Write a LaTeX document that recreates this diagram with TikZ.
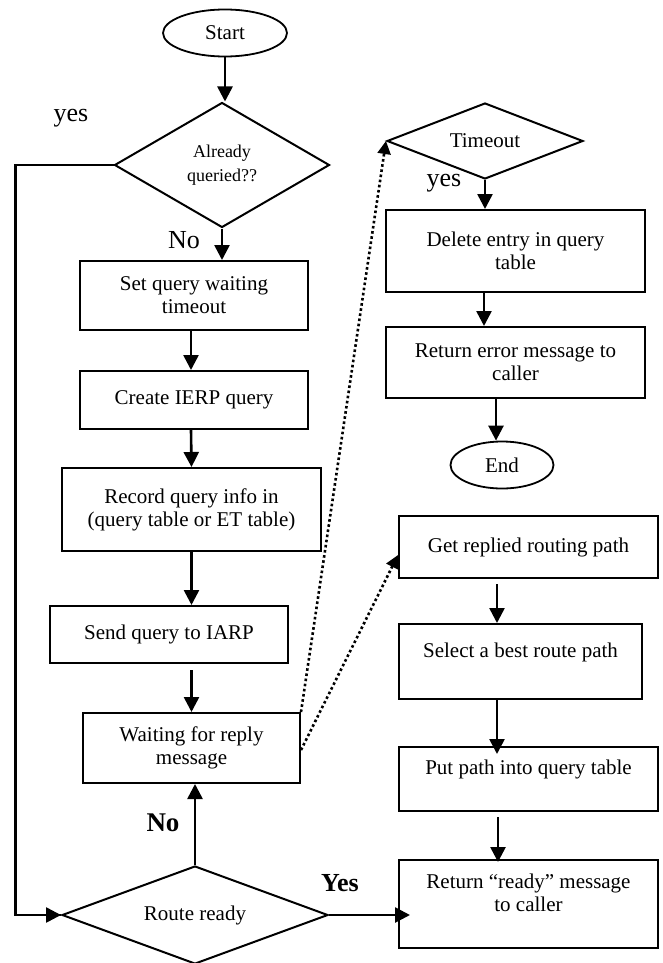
\documentclass[tikz,border=0pt]{standalone}
\usepackage{fontspec}
\setmainfont{Liberation Serif}
\usetikzlibrary{shapes.geometric,arrows.meta}

\begin{document}
\begin{tikzpicture}[x=1pt,y=-1pt,
  every node/.style={inner sep=0pt},
  body/.style={font=\fontsize{21}{23}\selectfont},
  stepbox/.style={body,draw,rectangle,line width=2pt,align=center},
  term/.style={body,draw,ellipse,line width=1.8pt},
  decision/.style={draw,diamond,line width=2pt,align=center},
  lbl/.style={font=\fontsize{26}{28}\selectfont},
  arr/.style={line width=2.6pt,-{Triangle[length=15pt,width=15pt]}},
  link/.style={line width=2.4pt},
  dotarr/.style={line width=2.6pt,dash pattern=on 2.6pt off 2.6pt,
                 -{Triangle[length=13pt,width=13pt]}}]

\useasboundingbox (0,0) rectangle (662,963);

% ---- main column -------------------------------------------------
\node[term,minimum width=124,minimum height=47] (start) at (225,33) {Start};

\node[decision,shape aspect=1.72,minimum width=215,minimum height=125,
      font=\fontsize{18}{24}\selectfont] (q1) at (222,165) {Already\\queried??};

\node[stepbox,minimum width=228,minimum height=69] (b1) at (194,295.5)
  {Set query waiting\\timeout};
\node[stepbox,minimum width=228,minimum height=58] (b2) at (194,400)
  {Create IERP query};
\node[stepbox,minimum width=259,minimum height=83] (b3) at (191.5,509.5)
  {Record query info in\\(query table or ET table)};
\node[stepbox,minimum width=238,minimum height=57] (b4) at (169,634.5)
  {Send query to IARP};
\node[stepbox,minimum width=217,minimum height=70] (b5) at (191.5,748)
  {Waiting for reply\\message};

\node[decision,body,shape aspect=2.7,minimum width=266,minimum height=98]
  (q2) at (195,915) {Route ready};

% ---- timeout branch ----------------------------------------------
\node[decision,body,shape aspect=2.58,minimum width=196,minimum height=76]
  (tout) at (485,141) {Timeout};
\node[stepbox,minimum width=259,minimum height=82] (del) at (515.5,251)
  {Delete entry in query\\table};
\node[stepbox,minimum width=259,minimum height=71] (err) at (515.5,362.5)
  {Return error message to\\caller};
\node[term,minimum width=103,minimum height=47] (end) at (502,465) {End};

% ---- reply branch ------------------------------------------------
\node[stepbox,minimum width=259,minimum height=62] (get) at (528.5,547)
  {Get replied routing path};
\node[stepbox,minimum width=243,minimum height=75] (sel) at (520.5,661.5)
  {Select a best route path\\\mbox{}};
\node[stepbox,minimum width=259,minimum height=64] (put) at (528.5,779)
  {Put path into query table\\\mbox{}};
\node[stepbox,minimum width=259,minimum height=88] (ret) at (528.5,904)
  {Return ``ready'' message\\to caller\\\mbox{}};

% ---- labels ------------------------------------------------------
\node[lbl] (lyes1) at (71,118) {yes};
\node[lbl] (lno1) at (184,240) {No};
\node[lbl] (lyes2) at (444,183) {yes};
\node[lbl,font=\fontsize{27}{29}\selectfont\bfseries] (lno2) at (163,823) {No};
\node[lbl,font=\fontsize{26}{28}\selectfont\bfseries] (lyes3) at (340,883) {Yes};

% ---- connectors --------------------------------------------------
\draw[arr] (start.south) -- (start.south |- q1.north);
\draw[arr] (q1.south) -- (q1.south |- b1.north);
\draw[arr] ([xshift=-3pt]b1.south) -- ([xshift=-3pt]b2.north);
\draw[arr] ([xshift=-3pt]b2.south) -- (b3.north);
\draw[arr] (b3.south) -- (b3.south |- b4.north);
\draw[arr] ([yshift=-6pt]b4.south -| b5.north) -- (b5.north);
\draw[arr] (q2.north) -- (q2.north |- b5.south);
\draw[link] (q1.west) -- ++(-98,0) coordinate (loop) |- (q2.west);
\draw[arr] ([xshift=-30pt]q2.west) -- (q2.west);
\draw[arr] (q2.east) -- ([xshift=12pt]q2.east -| ret.west);

\draw[arr] (tout.south) -- (tout.south |- del.north);
\draw[arr] ([xshift=-31.5pt]del.south) -- ([xshift=-31.5pt]err.north);
\draw[arr] ([xshift=-19.5pt]err.south) -- ([xshift=-6pt]end.north);

\draw[arr] ([xshift=-31.5pt,yshift=-5pt]get.south) -- ([xshift=-23.5pt]sel.north);
\draw[arr] ([xshift=-23.5pt]sel.south) -- ([xshift=-31.5pt,yshift=-8pt]put.north);
\draw[arr] ([xshift=-30.5pt,yshift=-5pt]put.south) -- ([xshift=-30.5pt,yshift=-3pt]ret.north);

\draw[dotarr] (b5.north east) -- (tout.west);
\draw[dotarr] ([yshift=-2pt]b5.east) -- ([yshift=-8pt]get.west);

\end{tikzpicture}
\end{document}
